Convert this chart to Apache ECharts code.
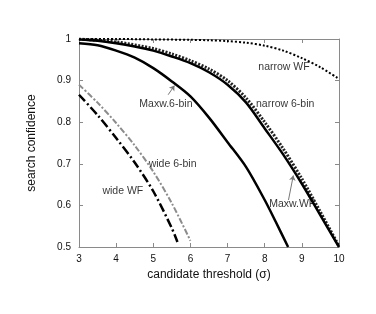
<!DOCTYPE html>
<html><head><meta charset="utf-8">
<script src="https://cdn.jsdelivr.net/npm/echarts@6/dist/echarts.min.js"></script>
<style>html,body{margin:0;padding:0;background:#fff}#c{width:376px;height:314px}</style>
</head><body><div id="c"></div>
<script>
var xTicks = [3,4,5,6,7,8,9,10];
var yTicks = [0.5,0.6,0.7,0.8,0.9,1];

var narrowWF_x = [3,4,5,6,6.5,7,7.5,8,8.5,9,9.5,10];
var narrowWF_y = [1.0,1.0,0.999,0.998,0.997,0.995,0.991,0.984,0.972,0.954,0.932,0.904];

var narrow6_x = [3,3.5,4,4.5,5,5.5,6,6.5,7,7.5,8,8.5,9,9.5,10];
var narrow6_y = [0.999,0.996,0.990,0.982,0.972,0.958,0.942,0.920,0.890,0.847,0.785,0.722,0.652,0.576,0.50];

var maxwWF_x = [3,4,5,5.5,6,6.5,7,7.5,8,8.5,9,9.5,10];
var maxwWF_y = [1.0,0.993,0.977,0.964,0.948,0.928,0.900,0.858,0.800,0.736,0.664,0.584,0.502];

var maxw6_x = [3,3.5,4,4.5,5,5.5,6,6.5,7,7.5,8,8.3,8.63];
var maxw6_y = [0.990,0.985,0.972,0.955,0.930,0.898,0.862,0.811,0.752,0.692,0.613,0.560,0.50];

var wide6_x = [3,3.5,4,4.5,5,5.5,6];
var wide6_y = [0.89,0.847,0.798,0.744,0.681,0.605,0.515];

var wideWF_x = [3,3.5,4,4.5,5,5.5,5.65];
var wideWF_y = [0.866,0.817,0.762,0.703,0.634,0.545,0.512];

var labelNames = ['narrow WF','narrow 6-bin','Maxw.6-bin','Maxw.WF','wide 6-bin','wide WF'];
var labelX = [8.52,8.55,5.34,8.74,5.52,4.18];
var labelY = [0.933,0.844,0.844,0.603,0.70,0.634];

function pairs(xs, ys){ return xs.map(function(x,i){ return [x, ys[i]]; }); }

var font = '"Liberation Sans", Arial, sans-serif';
var axisCol = '#8a8a8a';

var chart = echarts.init(document.getElementById('c'), null, {renderer:'canvas'});
var baseLine = {type:'line', symbol:'none', smooth:0.3, xAxisIndex:0, yAxisIndex:0, animation:false, z:3};

chart.setOption({
  animation:false,
  grid:{left:79, right:37, top:39, bottom:67},
  xAxis:[{
    type:'value', min:3, max:10, interval:1, position:'bottom',
    name:'candidate threshold (σ)', nameLocation:'middle', nameGap:22,
    nameTextStyle:{fontFamily:font, fontSize:12, color:'#111'},
    axisLine:{lineStyle:{color:axisCol, width:1}},
    axisTick:{inside:true, length:4, lineStyle:{color:axisCol}},
    axisLabel:{fontFamily:font, fontSize:10, color:'#111', margin:7},
    splitLine:{show:false}
  },{
    type:'value', min:3, max:10, interval:1, position:'top',
    axisLine:{show:true, lineStyle:{color:axisCol, width:1}},
    axisTick:{inside:true, length:4, lineStyle:{color:axisCol}},
    axisLabel:{show:false}, splitLine:{show:false}
  }],
  yAxis:[{
    type:'value', min:0.5, max:1, interval:0.1, position:'left',
    name:'search confidence', nameLocation:'middle', nameGap:41, nameRotate:90,
    nameTextStyle:{fontFamily:font, fontSize:12, color:'#111'},
    axisLine:{show:true, lineStyle:{color:axisCol, width:1}},
    axisTick:{inside:true, length:4, lineStyle:{color:axisCol}},
    axisLabel:{fontFamily:font, fontSize:10, color:'#111', margin:8},
    splitLine:{show:false}
  },{
    type:'value', min:0.5, max:1, interval:0.1, position:'right',
    axisLine:{show:true, lineStyle:{color:axisCol, width:1}},
    axisTick:{inside:true, length:4, lineStyle:{color:axisCol}},
    axisLabel:{show:false}, splitLine:{show:false}
  }],
  series:[
    Object.assign({}, baseLine, {name:'narrow WF', data:pairs(narrowWF_x, narrowWF_y),
      lineStyle:{color:'#000', width:2, type:[2,2]}}),
    Object.assign({}, baseLine, {name:'Maxw.WF', data:pairs(maxwWF_x, maxwWF_y),
      lineStyle:{color:'#222', width:3, type:[2,1.5]}}),
    Object.assign({}, baseLine, {name:'narrow 6-bin', data:pairs(narrow6_x, narrow6_y),
      lineStyle:{color:'#000', width:2.5}}),
    Object.assign({}, baseLine, {name:'Maxw.6-bin', data:pairs(maxw6_x, maxw6_y),
      lineStyle:{color:'#000', width:2.5}}),
    Object.assign({}, baseLine, {name:'wide 6-bin', data:pairs(wide6_x, wide6_y),
      lineStyle:{color:'#8c8c8c', width:2, type:[6,2,2,2]}}),
    Object.assign({}, baseLine, {name:'wide WF', data:pairs(wideWF_x, wideWF_y),
      lineStyle:{color:'#000', width:2.5, type:[9,3,2,3]},
      markLine:{silent:true, symbol:['none','arrow'], symbolSize:5,
        lineStyle:{color:'#777', width:1, type:'solid'}, label:{show:false},
        data:[
          [{coord:[5.40,0.866]},{coord:[5.57,0.888]}],
          [{coord:[8.64,0.613]},{coord:[8.77,0.672]}]
        ]}}),
    {type:'scatter', symbolSize:0, animation:false, silent:true, z:5,
      data:labelNames.map(function(n,i){ return {name:n, value:[labelX[i], labelY[i]]}; }),
      label:{show:true, position:'inside', formatter:'{b}', fontFamily:font, fontSize:10.5, color:'#000'}}
  ]
});
</script></body></html>
